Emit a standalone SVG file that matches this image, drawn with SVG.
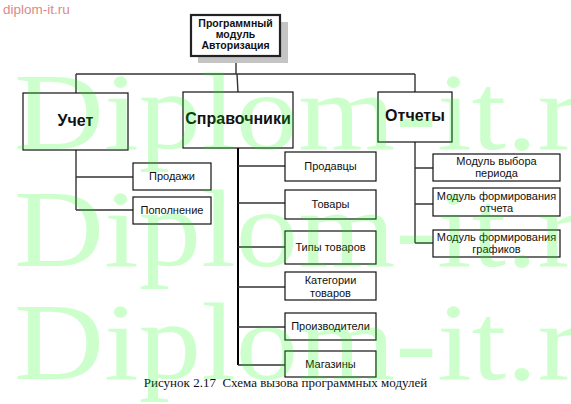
<svg xmlns="http://www.w3.org/2000/svg" width="571" height="404" viewBox="0 0 571 404">
<style>
.box{fill:#fff;stroke:#111;stroke-width:1.2}
.t{font-family:"Liberation Sans",Arial,sans-serif;font-size:11px;fill:#111;text-anchor:middle}
.tb{font-family:"Liberation Sans",Arial,sans-serif;font-size:16px;font-weight:bold;fill:#111;text-anchor:middle}
.tt{font-family:"Liberation Sans",Arial,sans-serif;font-size:10.5px;font-weight:bold;fill:#111;text-anchor:middle}
.con{stroke:#333;stroke-width:1.4;fill:none}
.wm{font-family:"Liberation Serif","Times New Roman",serif;font-size:110px;fill:#00ff00;fill-opacity:0.2}
</style>
<rect width="571" height="404" fill="#fff"/>
<text x="3" y="14" style="font-family:'Liberation Sans',Arial,sans-serif;font-size:13.5px;fill:#e08888">diplom-it.ru</text>

<g id="connectors">
<path class="con" d="M236 56 L236 74 M76 74 L415 74 M76 74 L76 93 M237 74 L238 92 M415 74 L415 92"/>
<path class="con" d="M76 150 L76 210 M76 177 L133 177 M76 210 L133 210"/>
<path class="con" d="M238 148 L238 365" style="stroke-width:2;stroke:#000"/>
<path class="con" d="M238 166 L285 166 M238 203 L285 203 M238 247 L285 247 M238 287 L285 287 M238 327 L285 327 M238 365 L285 365"/>
<path class="con" d="M415 142 L415 243 M415 168 L433 168 M415 204 L433 204 M415 243 L433 243"/>
</g>

<g id="auth">
<rect x="198" y="22" width="90" height="41" fill="#c4c4c4"/>
<rect x="191" y="15" width="89" height="41" fill="#fff" stroke="#222" stroke-width="2.2"/>
<text class="tt" x="235.5" y="27">Программный</text>
<text class="tt" x="235.5" y="38">модуль</text>
<text class="tt" x="235.5" y="49">Авторизация</text>
</g>

<g id="uchet"><rect class="box" x="23" y="93" width="105" height="57"/><text class="tb" x="75.5" y="126">Учет</text></g>
<g id="spravochniki"><rect class="box" x="183" y="92" width="110" height="56"/><text class="tb" x="238" y="124">Справочники</text></g>
<g id="otchety"><rect class="box" x="378" y="92" width="74" height="50"/><text class="tb" x="415" y="121">Отчеты</text></g>

<g id="prodazhi"><rect class="box" x="133" y="163" width="78" height="27"/><text class="t" x="172" y="180">Продажи</text></g>
<g id="popolnenie"><rect class="box" x="133" y="197" width="78" height="27"/><text class="t" x="172" y="214">Пополнение</text></g>

<g id="prodavcy"><rect class="box" x="285" y="152" width="91" height="29"/><text class="t" x="330.5" y="170">Продавцы</text></g>
<g id="tovary"><rect class="box" x="285" y="190" width="91" height="29"/><text class="t" x="330.5" y="208">Товары</text></g>
<g id="tipy"><rect class="box" x="285" y="231" width="91" height="33"/><text class="t" x="330.5" y="251">Типы товаров</text></g>
<g id="kategorii"><rect class="box" x="285" y="272" width="91" height="28"/><text class="t" x="330.5" y="284">Категории</text><text class="t" x="330.5" y="297">товаров</text></g>
<g id="proizvoditeli"><rect class="box" x="285" y="313" width="91" height="27"/><text class="t" x="330.5" y="330">Производители</text></g>
<g id="magaziny"><rect class="box" x="285" y="351" width="91" height="26"/><text class="t" x="330.5" y="368">Магазины</text></g>

<g id="period"><rect class="box" x="433" y="154" width="127" height="27"/><text class="t" x="496.5" y="165">Модуль выбора</text><text class="t" x="496.5" y="177">периода</text></g>
<g id="otchet"><rect class="box" x="433" y="188" width="127" height="28"/><text class="t" x="496.5" y="200">Модуль формирования</text><text class="t" x="496.5" y="212">отчета</text></g>
<g id="grafiki"><rect class="box" x="433" y="230" width="127" height="27"/><text class="t" x="496.5" y="241">Модуль формирования</text><text class="t" x="496.5" y="253">графиков</text></g>

<text x="285.5" y="387" style="font-family:'Liberation Serif','Times New Roman',serif;font-size:13px;fill:#111;text-anchor:middle;white-space:pre">Рисунок 2.17  Схема вызова программных модулей</text>

<g id="watermark">
<text class="wm" x="14" y="149" textLength="565" lengthAdjust="spacingAndGlyphs">Diplom-it.r</text>
<text class="wm" x="14" y="266" textLength="565" lengthAdjust="spacingAndGlyphs">Diplom-it.r</text>
<text class="wm" x="14" y="379" textLength="565" lengthAdjust="spacingAndGlyphs">Diplom-it.r</text>
</g>
</svg>
